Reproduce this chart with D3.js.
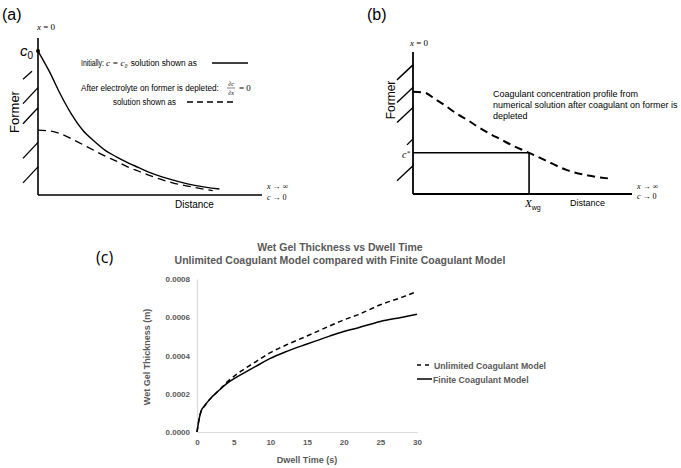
<!DOCTYPE html>
<html><head><meta charset="utf-8">
<script src="https://cdn.jsdelivr.net/npm/d3@7"></script>
<style>body{margin:0;background:#fff} svg{display:block}</style>
</head><body><svg id="fig" width="681" height="468"></svg>
<script>
// ---------- Panel (a) schematic: concentration vs distance ----------
const aDistSolid  = [0, 0.5, 1, 1.5, 2, 2.5, 3, 3.5, 4, 4.5, 5, 5.5, 6, 7, 8.1];
const aConcSolid  = [1.0, 0.86, 0.70, 0.56, 0.45, 0.375, 0.31, 0.265, 0.225, 0.19, 0.155, 0.128, 0.105, 0.067, 0.042];
const aDistDashed = [0, 0.5, 1, 1.5, 2, 2.5, 3, 3.5, 4, 4.5, 5, 5.5, 6, 7, 7.8];
const aConcDashed = [0.45, 0.445, 0.425, 0.39, 0.35, 0.31, 0.27, 0.235, 0.195, 0.165, 0.135, 0.108, 0.085, 0.052, 0.03];
const aHatch = [0.86, 0.69, 0.55, 0.31, 0.14];
// ---------- Panel (b) schematic ----------
const bDist = [0, 0.5, 1, 1.5, 2, 2.5, 3, 3.5, 4, 4.5, 5, 5.3, 6, 7, 8, 8.9];
const bConc = [0.72, 0.715, 0.67, 0.62, 0.565, 0.52, 0.47, 0.425, 0.385, 0.345, 0.31, 0.29, 0.24, 0.17, 0.13, 0.11];
const bCstar = 0.29;
const bXwg = 5.3;
const bHatch = [0.86, 0.70, 0.56, 0.36, 0.15];
// ---------- Panel (c) chart ----------
const dwellTime = [0, 0.3, 0.6, 1, 1.5, 2, 2.5, 3, 4, 5, 6, 8, 10, 12, 15, 18, 20, 22, 25, 28, 30];
const unlimitedModel = [0, 0.00007, 0.000114, 0.000135, 0.00016, 0.000182, 0.0002, 0.000218, 0.000258, 0.00029, 0.000318, 0.000367, 0.000415, 0.000452, 0.000502, 0.000553, 0.000586, 0.000614, 0.000665, 0.000705, 0.000735];
const finiteModel    = [0, 0.00007, 0.000114, 0.000135, 0.00016, 0.000182, 0.0002, 0.000218, 0.000252, 0.000278, 0.0003, 0.000343, 0.000385, 0.000418, 0.00046, 0.0005, 0.000525, 0.000545, 0.000578, 0.0006, 0.000616];
const yTickValues = [0, 0.0002, 0.0004, 0.0006, 0.0008];
const xTickValues = [0, 5, 10, 15, 20, 25, 30];
const seriesNames = ["Unlimited Coagulant Model", "Finite Coagulant Model"];

const svg = d3.select("#fig");
const sans = "Liberation Sans, Arial, sans-serif";
const serif = "Liberation Serif, DejaVu Serif, Times New Roman, serif";

// condensed text: scale horizontally so that it spans exactly `len` pixels
function condensed(parent, xx, yy, len, s, size) {
  const gg = parent.append("g");
  const t = gg.append("text").attr("font-family", sans).attr("font-size", size || 9).text(s);
  const w = t.node().getComputedTextLength();
  gg.attr("transform", `translate(${xx},${yy}) scale(${len / w},1)`);
  return gg;
}

// ================= Panel (a) =================
{
  const g = svg.append("g");
  const x = d3.scaleLinear().domain([0, 10]).range([38, 262]);
  const y = d3.scaleLinear().domain([0, 1]).range([195, 51]);
  g.append("text").attr("x", 2).attr("y", 20).attr("font-family", sans).attr("font-size", 16).text("(a)");
  g.append("text").attr("x", 37).attr("y", 30).attr("font-family", serif).attr("font-size", 9)
    .html('<tspan font-style="italic">x</tspan> = 0');
  g.append("line").attr("x1", x(0)).attr("x2", x(0)).attr("y1", 38).attr("y2", y(0)).attr("stroke", "#000").attr("stroke-width", 1.6);
  g.append("line").attr("x1", x(0)).attr("x2", x(10)).attr("y1", y(0)).attr("y2", y(0)).attr("stroke", "#000").attr("stroke-width", 1.6);
  aHatch.forEach((c, i) => {
    const short = i === 0;
    g.append("line").attr("x1", x(0) - 15).attr("y1", y(c) + 8)
      .attr("x2", x(0) - (short ? 6 : 0)).attr("y2", y(c) - (short ? 0 : 8))
      .attr("stroke", "#000").attr("stroke-width", 1.3);
  });
  g.append("text").attr("transform", `translate(19,112) rotate(-90)`).attr("text-anchor", "middle")
    .attr("font-family", sans).attr("font-size", 13).text("Former");
  g.append("text").attr("x", 20).attr("y", 56).attr("font-family", sans).attr("font-size", 15).attr("font-style", "italic")
    .html('c<tspan font-size="10" dy="3" font-style="normal">0</tspan>');
  g.append("circle").attr("cx", x(0)).attr("cy", y(1)).attr("r", 2).attr("fill", "#000");
  const line = d3.line().x(d => x(d[0])).y(d => y(d[1])).curve(d3.curveMonotoneX);
  g.append("path").attr("d", line(d3.zip(aDistSolid, aConcSolid))).attr("fill", "none").attr("stroke", "#000").attr("stroke-width", 1.4);
  g.append("path").attr("d", line(d3.zip(aDistDashed, aConcDashed))).attr("fill", "none").attr("stroke", "#000").attr("stroke-width", 1.3).attr("stroke-dasharray", "8,5");
  g.append("text").attr("x", 267).attr("y", 189).attr("font-family", serif).attr("font-size", 8).html('<tspan font-style="italic">x</tspan> → ∞');
  g.append("text").attr("x", 267).attr("y", 200).attr("font-family", serif).attr("font-size", 8).html('<tspan font-style="italic">c</tspan> → 0');
  g.append("text").attr("x", 175).attr("y", 208).attr("font-family", sans).attr("font-size", 10).text("Distance");
  // legend
  condensed(g, 81, 66, 23, "Initially:");
  const m = g.append("text").attr("x", 106).attr("y", 66).attr("font-family", serif).attr("font-size", 9).attr("font-style", "italic").text("c = c₀");
  const mw = m.node().getComputedTextLength();
  condensed(g, 106 + mw + 3, 66, 197 - (106 + mw + 3), "solution shown as");
  g.append("line").attr("x1", 212).attr("x2", 248).attr("y1", 63).attr("y2", 63).attr("stroke", "#000").attr("stroke-width", 1.4);
  condensed(g, 81, 91, 138, "After electrolyte on former is depleted:");
  g.append("text").attr("x", 231).attr("y", 85.5).attr("text-anchor", "middle").attr("font-family", serif).attr("font-size", 6).attr("font-style", "italic").text("∂c");
  g.append("line").attr("x1", 227).attr("x2", 235).attr("y1", 88).attr("y2", 88).attr("stroke", "#000").attr("stroke-width", 0.5);
  g.append("text").attr("x", 231).attr("y", 95).attr("text-anchor", "middle").attr("font-family", serif).attr("font-size", 6).attr("font-style", "italic").text("∂x");
  g.append("text").attr("x", 239).attr("y", 91).attr("font-family", serif).attr("font-size", 9).text("= 0");
  condensed(g, 113, 105, 63, "solution shown as");
  g.append("line").attr("x1", 187).attr("x2", 233).attr("y1", 102).attr("y2", 102).attr("stroke", "#000").attr("stroke-width", 1.4).attr("stroke-dasharray", "6,4");
}

// ================= Panel (b) =================
{
  const g = svg.append("g");
  const x = d3.scaleLinear().domain([0, 10]).range([413, 632]);
  const y = d3.scaleLinear().domain([0, 1]).range([194, 52]);
  g.append("text").attr("x", 367).attr("y", 20).attr("font-family", sans).attr("font-size", 16).text("(b)");
  g.append("text").attr("x", 410).attr("y", 46).attr("font-family", serif).attr("font-size", 9)
    .html('<tspan font-style="italic">x</tspan> = 0');
  g.append("line").attr("x1", x(0)).attr("x2", x(0)).attr("y1", 52).attr("y2", y(0)).attr("stroke", "#000").attr("stroke-width", 1.8);
  g.append("line").attr("x1", x(0)).attr("x2", x(10)).attr("y1", y(0)).attr("y2", y(0)).attr("stroke", "#000").attr("stroke-width", 1.8);
  bHatch.forEach((c, i) => {
    const short = i === 3;
    g.append("line").attr("x1", x(0) - (short ? 6 : 16)).attr("y1", y(c) + (short ? 2 : 8))
      .attr("x2", x(0)).attr("y2", y(c) - (short ? 4 : 7))
      .attr("stroke", "#000").attr("stroke-width", 1.4);
  });
  g.append("text").attr("transform", `translate(395,100) rotate(-90)`).attr("text-anchor", "middle")
    .attr("font-family", sans).attr("font-size", 12).text("Former");
  g.append("line").attr("x1", x(0)).attr("x2", x(bXwg)).attr("y1", y(bCstar)).attr("y2", y(bCstar)).attr("stroke", "#000").attr("stroke-width", 1.6);
  g.append("line").attr("x1", x(bXwg)).attr("x2", x(bXwg)).attr("y1", y(bCstar)).attr("y2", y(0)).attr("stroke", "#000").attr("stroke-width", 1.6);
  g.append("text").attr("x", 402).attr("y", 158).attr("font-family", serif).attr("font-size", 10).attr("font-style", "italic")
    .html('c<tspan font-size="7" dy="-3">*</tspan>');
  g.append("text").attr("x", 525).attr("y", 207).attr("font-family", serif).attr("font-size", 11).attr("font-style", "italic")
    .html('X<tspan font-family="' + sans + '" font-style="normal" font-size="7" dy="3">wg</tspan>');
  const line = d3.line().x(d => x(d[0])).y(d => y(d[1])).curve(d3.curveMonotoneX);
  g.append("path").attr("d", line(d3.zip(bDist, bConc))).attr("fill", "none").attr("stroke", "#000").attr("stroke-width", 2).attr("stroke-dasharray", "8,5");
  g.append("text").attr("x", 637).attr("y", 189).attr("font-family", serif).attr("font-size", 8).html('<tspan font-style="italic">x</tspan> → ∞');
  g.append("text").attr("x", 637).attr("y", 199).attr("font-family", serif).attr("font-size", 8).html('<tspan font-style="italic">c</tspan> → 0');
  g.append("text").attr("x", 570).attr("y", 206).attr("font-family", sans).attr("font-size", 9).text("Distance");
  ["Coagulant concentration profile from", "numerical solution after coagulant on former is", "depleted"].forEach((t, i) => {
    g.append("text").attr("x", 493).attr("y", 97 + i * 11).attr("font-family", sans).attr("font-size", 9).text(t);
  });
}

// ================= Panel (c) =================
{
  const g = svg.append("g");
  const grey = "#595959";
  const x = d3.scaleLinear().domain([0, 30]).range([197, 417]);
  const y = d3.scaleLinear().domain([0, 0.0008]).range([432, 279]);
  g.append("text").attr("x", 96).attr("y", 263).attr("font-family", "Open Sans, sans-serif").attr("font-size", 16).text("(c)");
  g.append("text").attr("x", 340).attr("y", 251).attr("text-anchor", "middle").attr("font-family", sans).attr("font-weight", "bold").attr("font-size", 10.5).attr("fill", grey).text("Wet Gel Thickness vs Dwell Time");
  g.append("text").attr("x", 340).attr("y", 264).attr("text-anchor", "middle").attr("font-family", sans).attr("font-weight", "bold").attr("font-size", 10.5).attr("fill", grey).text("Unlimited Coagulant Model compared with Finite Coagulant Model");
  const xAxis = g.append("g").attr("transform", `translate(0,${y(0)})`)
    .call(d3.axisBottom(x).tickValues(xTickValues).tickSize(0).tickPadding(7).tickFormat(d3.format("d")));
  const yAxis = g.append("g").attr("transform", `translate(${x(0)},0)`)
    .call(d3.axisLeft(y).tickValues(yTickValues).tickSize(0).tickPadding(7).tickFormat(d3.format(".4f")));
  [xAxis, yAxis].forEach(a => {
    a.select(".domain").attr("stroke", "#d9d9d9").attr("stroke-width", 1.2);
    a.selectAll("text").attr("font-family", sans).attr("font-weight", "bold").attr("font-size", 8).attr("fill", grey);
  });
  g.append("text").attr("x", 307).attr("y", 463).attr("text-anchor", "middle").attr("font-family", sans).attr("font-weight", "bold").attr("font-size", 9).attr("fill", grey).text("Dwell Time (s)");
  g.append("text").attr("transform", `translate(150,357) rotate(-90)`).attr("text-anchor", "middle").attr("font-family", sans).attr("font-weight", "bold").attr("font-size", 9).attr("fill", grey).text("Wet Gel Thickness (m)");
  const line = d3.line().x(d => x(d[0])).y(d => y(d[1])).curve(d3.curveMonotoneX);
  g.append("path").attr("d", line(d3.zip(dwellTime, unlimitedModel))).attr("fill", "none").attr("stroke", "#000").attr("stroke-width", 1.5).attr("stroke-dasharray", "5,3.5");
  g.append("path").attr("d", line(d3.zip(dwellTime, finiteModel))).attr("fill", "none").attr("stroke", "#000").attr("stroke-width", 1.5);
  const lg = g.append("g");
  seriesNames.forEach((n, i) => {
    const yy = 365 + i * 14;
    lg.append("line").attr("x1", 417).attr("x2", i === 0 ? 430 : 432).attr("y1", yy).attr("y2", yy)
      .attr("stroke", "#000").attr("stroke-width", 1.5).attr("stroke-dasharray", i === 0 ? "4,4" : null);
    lg.append("text").attr("x", i === 0 ? 434 : 433).attr("y", yy + 3.5).attr("font-family", sans).attr("font-weight", "bold").attr("font-size", 8.7).attr("fill", grey).text(n);
  });
}
</script></body></html>
